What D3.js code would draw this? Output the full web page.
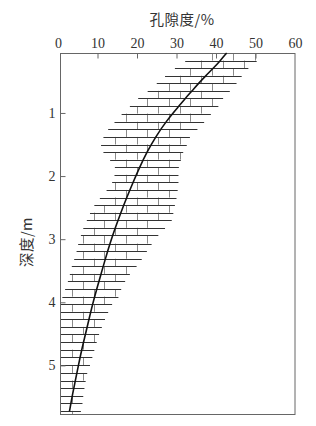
<!DOCTYPE html>
<html>
<head>
<meta charset="utf-8">
<script src="https://cdn.jsdelivr.net/npm/d3@7"></script>
<style>
  body { margin: 0; background: #fff; }
  svg { display: block; }
</style>
</head>
<body>
<svg></svg>
<script>
// porosity (%) vs depth (m) compaction curve over a brick-pattern band
var curveDepth = [0.05, 0.17, 0.30, 0.41, 0.53, 0.66, 0.77, 0.90, 1.13, 1.38, 1.62, 1.87,
                  2.10, 2.34, 2.58, 2.82, 3.06, 3.31, 3.55, 3.79, 4.02, 4.28, 4.52, 4.75,
                  4.99, 5.24, 5.48, 5.73];
var curvePor = [42.7, 41.1, 39.2, 37.4, 35.6, 33.8, 32.2, 30.5, 27.4, 24.7, 22.5, 20.6,
                19.0, 17.4, 15.9, 14.5, 13.2, 12.0, 10.9, 9.8, 8.8, 7.8, 6.9, 6.0,
                5.2, 4.4, 3.6, 2.9];

// brick rows: depth of each row line, left and right porosity of the line
var rowDepth = [0.05, 0.17, 0.29, 0.41, 0.53, 0.65, 0.77, 0.89, 1.01, 1.14, 1.26, 1.38,
                1.50, 1.62, 1.74, 1.86, 1.98, 2.10, 2.22, 2.34, 2.46, 2.58, 2.70, 2.82,
                2.94, 3.07, 3.19, 3.31, 3.43, 3.55, 3.67, 3.79, 3.91, 4.03, 4.15, 4.27,
                4.39, 4.51, 4.63, 4.75, 4.87, 5.00, 5.12, 5.24, 5.36, 5.48, 5.60, 5.72];
var rowLeft = [34.7, 32.2, 29.6, 27.1, 25.0, 22.7, 20.3, 18.2, 16.1, 14.3, 12.7, 11.5,
               10.9, 11.5, 13.2, 14.4, 14.3, 13.7, 12.3, 10.6, 9.2, 8.1, 7.3, 6.4,
               5.8, 5.1, 4.7, 4.1, 3.5, 3.0, 2.5, 1.8, 1.1, 0.5, 0.5, 0.5,
               0.5, 0.5, 0.5, 0.5, 0.5, 0.5, 0.5, 0.5, 0.5, 0.5, 0.5, 0.5];
var rowRight = [51.7, 50.3, 48.2, 46.5, 45.2, 43.5, 41.8, 40.6, 38.7, 37.0, 35.3, 33.4,
                32.6, 31.7, 31.1, 30.6, 30.5, 30.5, 30.3, 30.0, 29.6, 29.2, 28.8, 27.1,
                25.4, 23.7, 22.5, 21.2, 19.9, 18.2, 17.0, 16.0, 15.3, 13.7, 12.7, 11.9,
                11.1, 10.4, 9.8, 9.2, 8.7, 8.1, 7.4, 7.0, 6.7, 6.4, 6.2, 5.8];

var xTicks = [0, 10, 20, 30, 40, 50, 60];
var yTicks = [1, 2, 3, 4, 5];

var brickW = 5.44, brickStart = 36.25;

var width = 316, height = 426;
var frame = {left: 60, right: 294.5, top: 53, bottom: 414};

var svg = d3.select("svg")
    .attr("width", width)
    .attr("height", height);

var x = d3.scaleLinear().domain([0, 60]).range([58, 295]);
var y = d3.scaleLinear().domain([0.05, 5.77]).range([frame.top, frame.bottom]);

// brick joints between consecutive row lines
var joints = [];
for (var i = 0; i < rowDepth.length; i++) {
    var last = i == rowDepth.length - 1;
    var lo = last ? rowLeft[i] + 0.4 : Math.max(rowLeft[i], rowLeft[i + 1]) + 0.4;
    var hi = last ? rowRight[i] - 0.2 : Math.min(rowRight[i], rowRight[i + 1]) - 0.2;
    var off = (i % 2 == 0) ? brickW / 2 : 0;
    var p = brickStart + off - brickW * Math.ceil((brickStart + off - lo) / brickW);
    for (; p <= hi; p += brickW) {
        if (p >= lo) joints.push({p: p, d0: rowDepth[i], d1: last ? 5.77 : rowDepth[i + 1]});
    }
}

svg.append("g")
    .selectAll("line")
    .data(joints)
    .enter().append("line")
    .attr("x1", function(d) { return Math.round(x(d.p)) + 0.5; })
    .attr("x2", function(d) { return Math.round(x(d.p)) + 0.5; })
    .attr("y1", function(d) { return y(d.d0); })
    .attr("y2", function(d) { return y(d.d1); })
    .attr("stroke", "#8a8a8a")
    .attr("stroke-width", 1);

var rows = rowDepth.map(function(d, i) { return {d: d, l: rowLeft[i], r: rowRight[i]}; });
svg.append("g")
    .selectAll("line")
    .data(rows)
    .enter().append("line")
    .attr("x1", function(d) { return Math.max(x(d.l), frame.left); })
    .attr("x2", function(d) { return x(d.r); })
    .attr("y1", function(d) { return Math.round(y(d.d)) + 0.5; })
    .attr("y2", function(d) { return Math.round(y(d.d)) + 0.5; })
    .attr("stroke", "#333")
    .attr("stroke-width", 1);

// frame
svg.append("rect")
    .attr("x", frame.left + 0.5)
    .attr("y", frame.top + 0.5)
    .attr("width", frame.right - frame.left)
    .attr("height", frame.bottom - frame.top)
    .attr("fill", "none")
    .attr("stroke", "#666")
    .attr("stroke-width", 1);

// axes
var xAxis = svg.append("g")
    .attr("transform", "translate(0," + (frame.top + 0.5) + ")")
    .call(d3.axisTop(x).tickValues(xTicks).tickFormat(d3.format("d"))
        .tickSizeInner(-5).tickSizeOuter(0).tickPadding(6));
var yAxis = svg.append("g")
    .attr("transform", "translate(" + (frame.left + 0.5) + ",0)")
    .call(d3.axisLeft(y).tickValues(yTicks).tickFormat(d3.format("d"))
        .tickSizeInner(-5).tickSizeOuter(0).tickPadding(5));

[xAxis, yAxis].forEach(function(g) {
    g.attr("font-family", "'Liberation Serif', 'DejaVu Serif', serif").attr("font-size", 14);
    g.select(".domain").remove();
    g.selectAll(".tick line").attr("stroke", "#666");
    g.selectAll(".tick text").attr("fill", "#333");
});
xAxis.selectAll(".tick").filter(function(d) { return d == 0 || d == 60; }).select("line").remove();

// compaction curve
var pts = curveDepth.map(function(d, i) { return [curvePor[i], d]; });
svg.append("path")
    .datum(pts)
    .attr("fill", "none")
    .attr("stroke", "#111")
    .attr("stroke-width", 1.6)
    .attr("d", d3.line()
        .x(function(d) { return x(d[0]); })
        .y(function(d) { return y(d[1]); })
        .curve(d3.curveBasis));

// titles
svg.append("text")
    .attr("x", 182)
    .attr("y", 25)
    .attr("text-anchor", "middle")
    .attr("fill", "#333")
    .style("font-family", "'Noto Sans CJK SC', sans-serif")
    .style("font-size", "14.5px")
    .style("letter-spacing", "0.5px")
    .text("孔隙度/%");

svg.append("text")
    .attr("transform", "translate(25,242) rotate(-90)")
    .attr("text-anchor", "middle")
    .attr("dominant-baseline", "central")
    .attr("fill", "#333")
    .style("font-family", "'Noto Sans CJK SC', sans-serif")
    .style("font-size", "14.5px")
    .style("letter-spacing", "0.5px")
    .text("深度/m");
</script>
</body>
</html>
